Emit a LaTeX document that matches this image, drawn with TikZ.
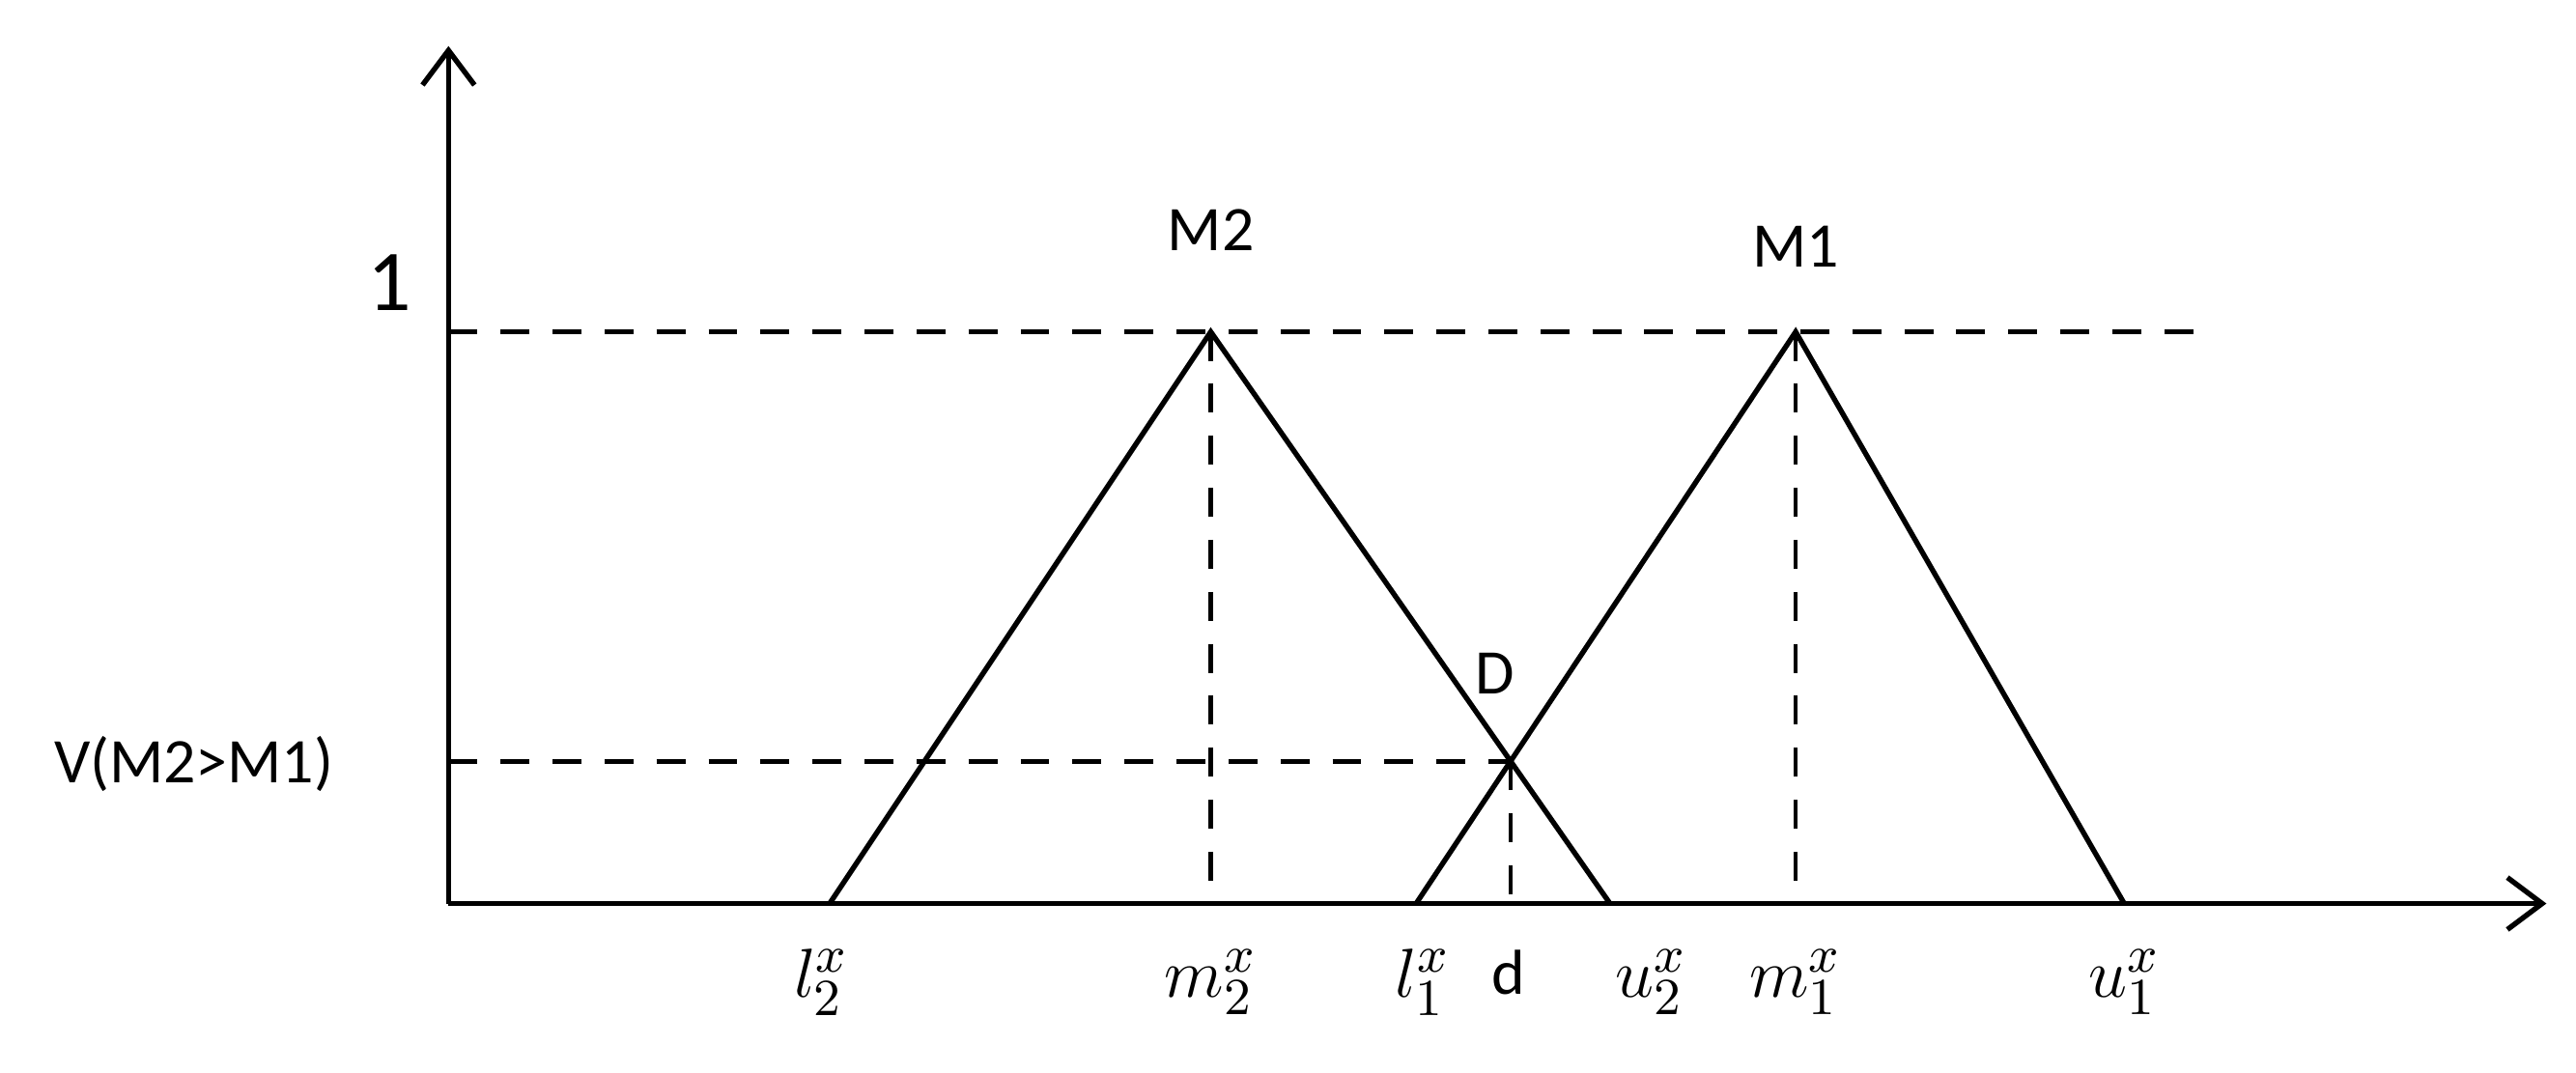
\documentclass[tikz,border=0pt]{standalone}
\usepackage{fontspec}
\setmainfont{Carlito}
\usetikzlibrary{arrows.meta,intersections}
\begin{document}
\begin{tikzpicture}[x=0.01cm,y=-0.01cm,
  ax/.style={line width=0.9pt,-{Straight Barb[length=6pt,width=9pt]}},
  tri/.style={line width=0.9pt},
  dsh/.style={line width=0.8pt,dash pattern=on 5pt off 4pt},
  lbl/.style={font=\fontsize{11}{12}\selectfont},
  mlbl/.style={font=\fontsize{13}{14}\selectfont}]
\useasboundingbox (0,0) rectangle (1568,653);
\coordinate (O) at (273,550);
\coordinate (Ytop) at (273,28);
\coordinate (Xend) at (1550,550);
\draw[ax] (O) -- (Ytop);
\draw[ax] (O) -- (Xend);
\coordinate (L2) at (505,550);
\coordinate (P2) at (737,202);
\coordinate (U2) at (980,550);
\coordinate (L1) at (862,550);
\coordinate (P1) at (1093,202);
\coordinate (U1) at (1293,550);
\coordinate (D) at (919.5,463.4);
\coordinate (Dy) at (273,463.4);
\coordinate (Dx) at (919.5,550);
\coordinate (Ya) at (273,202);
\coordinate (Yb) at (1345,202);
\coordinate (M2x) at (737,550);
\coordinate (M1x) at (1093,550);
\draw[dsh] (Ya) -- (Yb);
\draw[dsh] (Dy) -- (D);
\draw[dsh] (D) -- (Dx);
\draw[dsh] (P2) -- (M2x);
\draw[dsh] (P1) -- (M1x);
\draw[tri] (L2) -- (P2) -- (U2);
\draw[tri] (L1) -- (P1) -- (U1);
\node[font=\fontsize{15}{16}\selectfont] (one) at (237,172) {1};
\node[lbl] (m2) at (737,140) {M2};
\node[lbl] (m1) at (1093,150) {M1};
\node[lbl] (dd) at (910,410) {D};
\node[lbl] (v) at (118,465) {V(M2>M1)};
\node[mlbl] (a) at (500,598) {$l_2^x$};
\node[mlbl] (b) at (737,598) {$m_2^x$};
\node[mlbl] (c) at (866,598) {$l_1^x$};
\node[lbl] (d) at (918,592) {d};
\node[mlbl] (e) at (1005,598) {$u_2^x$};
\node[mlbl] (f) at (1093,598) {$m_1^x$};
\node[mlbl] (g) at (1293,598) {$u_1^x$};
\end{tikzpicture}
\end{document}
